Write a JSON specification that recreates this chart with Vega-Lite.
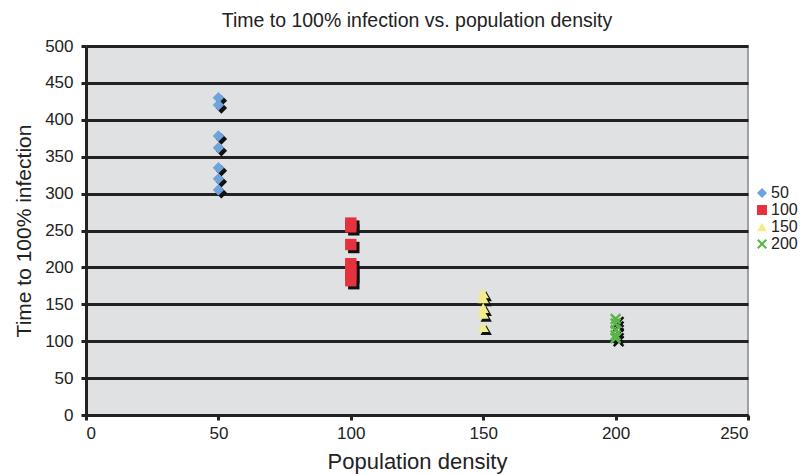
{
  "$schema": "https://vega.github.io/schema/vega-lite/v6.json",
  "autosize": "none",
  "width": 662,
  "height": 369,
  "padding": {"left": 86, "top": 46, "right": 56, "bottom": 60},
  "background": "white",
  "config": {
    "font": "Liberation Sans",
    "view": {"fill": "#e0e1e3", "stroke": "#a0a0a0", "strokeWidth": 2},
    "axis": {"labelFont": "Liberation Sans", "titleFont": "Liberation Sans", "labelColor": "#222", "titleColor": "#222", "titleFontWeight": "normal"}
  },
  "title": {"text": "Time to 100% infection vs. population density", "fontSize": 19.5, "fontWeight": "normal", "color": "#222", "offset": 6, "anchor": "middle"},
  "data": {"values": [
    {"density": 50, "time": 430, "group": "50"},
    {"density": 50, "time": 420, "group": "50"},
    {"density": 50, "time": 378, "group": "50"},
    {"density": 50, "time": 362, "group": "50"},
    {"density": 50, "time": 335, "group": "50"},
    {"density": 50, "time": 320, "group": "50"},
    {"density": 50, "time": 305, "group": "50"},
    {"density": 100, "time": 260, "group": "100"},
    {"density": 100, "time": 255, "group": "100"},
    {"density": 100, "time": 231, "group": "100"},
    {"density": 100, "time": 205, "group": "100"},
    {"density": 100, "time": 197, "group": "100"},
    {"density": 100, "time": 190, "group": "100"},
    {"density": 100, "time": 182, "group": "100"},
    {"density": 150, "time": 165, "group": "150"},
    {"density": 150, "time": 158, "group": "150"},
    {"density": 150, "time": 145, "group": "150"},
    {"density": 150, "time": 137, "group": "150"},
    {"density": 150, "time": 119, "group": "150"},
    {"density": 200, "time": 130, "group": "200"},
    {"density": 200, "time": 124, "group": "200"},
    {"density": 200, "time": 115, "group": "200"},
    {"density": 200, "time": 108, "group": "200"},
    {"density": 200, "time": 104, "group": "200"}
  ]},
  "encoding": {
    "x": {"field": "density", "type": "quantitative", "scale": {"domain": [0, 250]},
      "axis": {"values": [0, 50, 100, 150, 200, 250], "labelOverlap": false, "title": "Population density", "titleFontSize": 22, "labelFontSize": 17, "grid": false, "domainColor": "#222", "domainWidth": 3, "tickColor": "#222", "tickWidth": 3, "tickSize": 5, "labelPadding": 5, "titlePadding": 10}},
    "y": {"field": "time", "type": "quantitative", "scale": {"domain": [0, 500]},
      "axis": {"values": [0, 50, 100, 150, 200, 250, 300, 350, 400, 450, 500], "labelOverlap": false, "title": "Time to 100% infection", "titleFontSize": 21, "labelFontSize": 17, "grid": true, "gridColor": "#222", "gridWidth": 3, "domainColor": "#222", "domainWidth": 3, "tickColor": "#222", "tickWidth": 3, "tickSize": 5, "labelPadding": 8, "titlePadding": 10}},
    "shape": {"field": "group", "type": "nominal", "sort": ["50", "100", "150", "200"], "scale": {"domain": ["50", "100", "150", "200"], "range": ["diamond", "square", "triangle-up", "M-1,-0.7L-0.7,-1L0,-0.3L0.7,-1L1,-0.7L0.3,0L1,0.7L0.7,1L0,0.3L-0.7,1L-1,0.7L-0.3,0Z"]}}
  },
  "layer": [
    {
      "mark": {"type": "point", "filled": true, "opacity": 1, "xOffset": 3, "yOffset": 3, "size": 130},
      "encoding": {"color": {"value": "#111"}}
    },
    {
      "mark": {"type": "point", "filled": true, "opacity": 1, "size": 130},
      "encoding": {
        "color": {"field": "group", "type": "nominal", "sort": ["50", "100", "150", "200"], "scale": {"domain": ["50", "100", "150", "200"], "range": ["#6fa3db", "#e5323c", "#f3ec8a", "#5cb548"]},
          "legend": {"title": null, "orient": "none", "legendX": 668, "legendY": 139, "labelFontSize": 16, "labelColor": "#222", "symbolSize": 100, "rowPadding": 1, "labelOffset": 1, "padding": 0}}
      }
    }
  ]
}
